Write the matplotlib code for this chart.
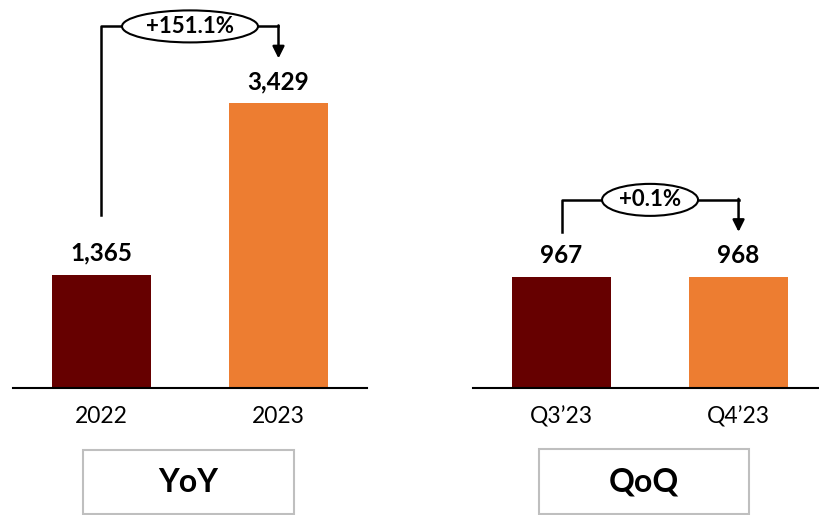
import matplotlib.pyplot as plt
from matplotlib.patches import Ellipse, Rectangle

plt.rcParams['font.family'] = ['Lato', 'DejaVu Sans']

# data
yoy_labels = ['2022', '2023']
yoy_values = [1365, 3429]
yoy_change = '+151.1%'

qoq_labels = ['Q3\u201923', 'Q4\u201923']
qoq_values = [967, 968]
qoq_change = '+0.1%'

colors = ['#660000', '#ED7D31']

W, H = 820, 515
fig = plt.figure(figsize=(W / 100, H / 100), dpi=100)


def panel(left_px, right_px, labels, values, change, ymax, xmax,
          start_off, box, title, ell_w):
    base = 127  # baseline height from bottom, px
    ax = fig.add_axes([left_px / W, base / H, (right_px - left_px) / W, (H - base) / H])
    ax.set_xlim(-0.5, xmax)
    ax.set_ylim(0, ymax)
    ppu = (H - base) / ymax  # px per data unit

    x = range(len(values))
    ax.bar(x, values, width=0.56, color=colors, zorder=2)
    for xi, v in zip(x, values):
        ax.annotate(f'{v:,}', (xi, v), xytext=(0, 10), textcoords='offset pixels',
                    ha='center', va='bottom', fontsize=17.5, fontweight='bold')

    ax.set_xticks(list(x))
    ax.set_xticklabels(labels, fontsize=16.5)
    ax.tick_params(axis='x', length=0, pad=13)
    ax.set_yticks([])
    for s in ['top', 'right', 'left']:
        ax.spines[s].set_visible(False)
    ax.spines['bottom'].set_linewidth(1.5)

    # growth bracket with ellipse label
    top = max(values) + 77 / ppu
    y0 = values[0] + start_off / ppu
    tip = values[1] + 45 / ppu
    ew = ell_w / 177
    kw = dict(color='black', lw=1.8, clip_on=False)
    ax.plot([0, 0, 0.5 - ew / 2], [y0, top, top], **kw)
    ax.plot([0.5 + ew / 2, 1], [top, top], **kw)
    ax.annotate('', xy=(1, tip), xytext=(1, top + 1 / ppu),
                arrowprops=dict(arrowstyle='-|>,head_length=0.7,head_width=0.35',
                                color='black', lw=1.8, shrinkA=0, shrinkB=0),
                annotation_clip=False)
    ax.add_patch(Ellipse((0.5, top), ew, 32 / ppu, facecolor='white',
                         edgecolor='black', lw=1.5, clip_on=False, zorder=3))
    ax.text(0.5, top, change, ha='center', va='center', fontsize=16,
            fontweight='bold', zorder=4)

    # title box under the axis
    bx0, by0, bx1, by1 = box
    fig.patches.append(Rectangle((bx0 / W, 1 - by1 / H), (bx1 - bx0) / W, (by1 - by0) / H,
                                 transform=fig.transFigure, facecolor='white',
                                 edgecolor='#BFBFBF', lw=1.5))
    fig.text((bx0 + bx1) / 2 / W, 1 - (by0 + by1) / 2 / H, title, ha='center', va='center',
             fontsize=23, fontweight='bold')


panel(13, 367, yoy_labels, yoy_values, yoy_change, 4675, 1.5, 60,
      (83, 450, 294, 514), 'YoY', 136)
panel(473, 820, qoq_labels, qoq_values, qoq_change, 3380, 1.46, 45,
      (539, 449, 749, 514), 'QoQ', 96)

fig.savefig('out.png', dpi=100)
